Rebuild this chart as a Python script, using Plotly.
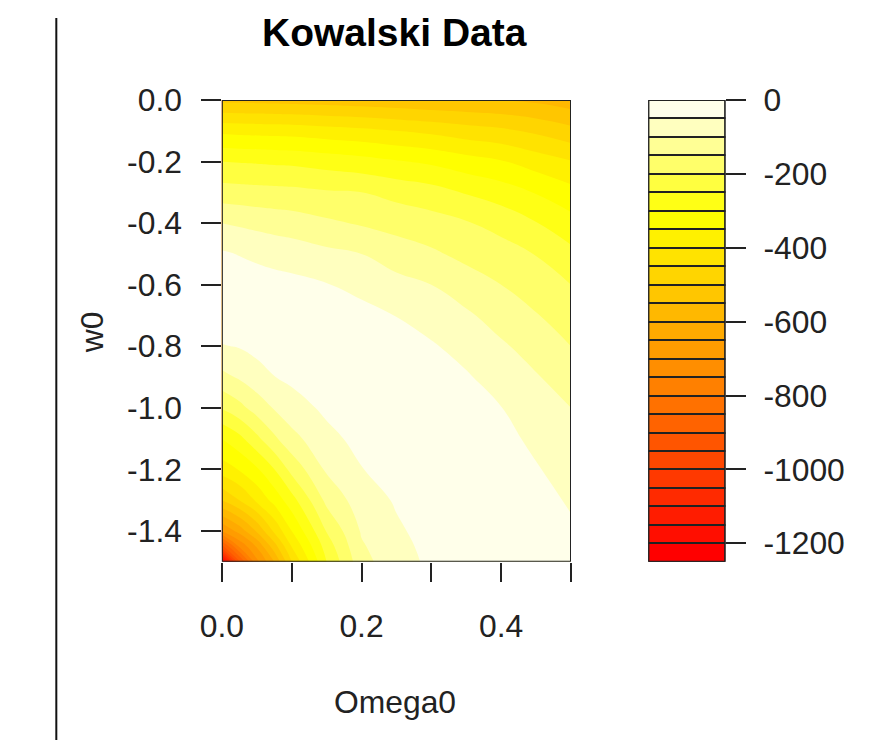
import plotly.graph_objects as go

# ---- data -------------------------------------------------------------
omega0 = [0.0, 0.025, 0.05, 0.075, 0.1, 0.15, 0.2, 0.25, 0.3, 0.35, 0.4, 0.45, 0.5]
w0 = [0.0, -0.1, -0.2, -0.3, -0.4, -0.5, -0.6, -0.7, -0.8, -0.9,
      -1.0, -1.1, -1.2, -1.3, -1.4, -1.45, -1.5]

# log-likelihood surface, one row per w0 value, one column per Omega0 value
loglike = [
    [-512, -514, -516, -517, -519, -523, -529, -536, -543, -546, -551, -560, -578],
    [-362, -365, -367, -369, -371, -380, -388, -400, -412, -428, -440, -460, -485],
    [-250, -253, -255, -258, -260, -271, -282, -296, -309, -329, -346, -373, -397],
    [-177, -180, -183, -185, -187, -195, -200, -216, -230, -254, -275, -303, -333],
    [-100, -107, -114, -120, -125, -141, -155, -168, -180, -196, -217, -248, -281],
    [-44, -52, -60, -68, -74, -88, -100, -124, -142, -163, -179, -202, -237],
    [-20, -24, -28, -32, -36, -48, -63, -84, -100, -127, -150, -174, -200],
    [-18, -17, -16, -17, -18, -28, -36, -51, -71, -92, -121, -147, -175],
    [-53, -47, -35, -28, -17, -18, -27, -33, -45, -67, -93, -120, -150],
    [-114, -94, -71, -51, -40, -25, -18, -22, -32, -45, -71, -96, -125],
    [-196, -165, -128, -96, -71, -40, -20, -16, -22, -32, -49, -78, -100],
    [-300, -264, -212, -159, -116, -64, -35, -18, -16, -22, -35, -61, -85],
    [-375, -347, -307, -251, -184, -93, -52, -26, -16, -16, -25, -46, -71],
    [-500, -450, -391, -333, -270, -137, -74, -45, -22, -15, -18, -32, -56],
    [-700, -631, -544, -441, -350, -197, -95, -57, -33, -18, -15, -22, -42],
    [-920, -744, -645, -523, -398, -227, -106, -63, -38, -21, -15, -18, -35],
    [-1230, -910, -715, -600, -450, -250, -118, -67, -42, -25, -16, -15, -28],
]

# contour levels: 25 bands of width 50 from -1250 to 0
band_lo = [-1250, -1200, -1150, -1100, -1050, -1000, -950, -900, -850, -800,
           -750, -700, -650, -600, -550, -500, -450, -400, -350, -300,
           -250, -200, -150, -100, -50]
band_size = 50
heat_colors = ["#FF0000", "#FF0E00", "#FF1C00", "#FF2A00", "#FF3900", "#FF4700",
               "#FF5500", "#FF6300", "#FF7100", "#FF8000", "#FF8E00", "#FF9C00",
               "#FFAA00", "#FFB800", "#FFC600", "#FFD500", "#FFE300", "#FFF100",
               "#FFFF00", "#FFFF15", "#FFFF40", "#FFFF6A", "#FFFF95", "#FFFFBF",
               "#FFFFEA"]

x_ticks = [0.0, 0.1, 0.2, 0.3, 0.4, 0.5]
x_ticklabels = ["0.0", "", "0.2", "", "0.4", ""]
y_ticks = [0.0, -0.2, -0.4, -0.6, -0.8, -1.0, -1.2, -1.4]
y_ticklabels = ["0.0", "-0.2", "-0.4", "-0.6", "-0.8", "-1.0", "-1.2", "-1.4"]
cbar_ticks = [0, -200, -400, -600, -800, -1000, -1200]
cbar_ticklabels = ["0", "-200", "-400", "-600", "-800", "-1000", "-1200"]

# ---- page geometry ------------------------------------------------------
W, H = 869, 740
# placement grid: positions below are given on a frame that maps onto the
# page as page = (pos - offset) / scale
SX, OX = 0.9715, 22.8
SY, OY = 0.976, 17.0
S = (SX + SY) / 2
FONT = "Liberation Sans, Arial, Helvetica, sans-serif"
INK = "#222222"


def px(x):
    return (x - OX) / SX / W


def py(y):
    return 1 - (y - OY) / SY / H


def sz(v):
    return v / S


plot_x = [px(222), px(570)]
plot_y = [py(561), py(99)]
cbar_x = [px(647), px(724)]

n_bands = len(heat_colors)
colorscale = [[i / (n_bands - 1), c] for i, c in enumerate(heat_colors)]

fig = go.Figure()

fig.add_trace(go.Contour(
    x=omega0, y=w0, z=loglike,
    autocontour=False,
    contours=dict(start=band_lo[1], end=band_lo[-1], size=band_size,
                  coloring="fill", showlines=False),
    colorscale=colorscale,
    line=dict(width=0, smoothing=1.3),
    showscale=False,
    hoverinfo="skip",
))

fig.add_trace(go.Bar(
    x=[0.5] * n_bands, y=[band_size] * n_bands, base=band_lo,
    width=1.0,
    marker=dict(color=heat_colors, line=dict(color=INK, width=2)),
    xaxis="x2", yaxis="y2",
    showlegend=False, hoverinfo="skip",
))

tick_font = dict(family=FONT, size=sz(31), color=INK)
tick_len = sz(19)

fig.update_layout(
    width=W, height=H, autosize=False,
    margin=dict(l=0, r=0, t=0, b=0),
    paper_bgcolor="white", plot_bgcolor="white",
    showlegend=False,
    xaxis=dict(domain=plot_x, range=[0, 0.5], anchor="y",
               tickvals=x_ticks, ticktext=x_ticklabels,
               ticks="outside", ticklen=tick_len, tickwidth=2, tickcolor=INK,
               tickfont=tick_font, ticklabelstandoff=16,
               showgrid=False, zeroline=False, showline=False),
    yaxis=dict(domain=plot_y, range=[-1.5, 0], anchor="x",
               tickvals=y_ticks, ticktext=y_ticklabels,
               ticks="outside", ticklen=tick_len, tickwidth=2, tickcolor=INK,
               tickfont=tick_font, ticklabelstandoff=13,
               showgrid=False, zeroline=False, showline=False),
    xaxis2=dict(domain=cbar_x, range=[0, 1], anchor="y2", visible=False,
                fixedrange=True),
    yaxis2=dict(domain=plot_y, range=[band_lo[0], band_lo[-1] + band_size],
                anchor="x2", side="right",
                tickvals=cbar_ticks, ticktext=cbar_ticklabels,
                ticks="outside", ticklen=tick_len, tickwidth=2, tickcolor=INK,
                tickfont=tick_font, ticklabelstandoff=11,
                showgrid=False, zeroline=False, showline=False),
    bargap=0,
)

# frames around the image panel and the colour key
fig.add_shape(type="rect", xref="x", yref="y", x0=0, x1=0.5, y0=-1.5, y1=0,
              line=dict(color=INK, width=2), layer="above")
fig.add_shape(type="rect", xref="x2", yref="y2", x0=0, x1=1,
              y0=band_lo[0], y1=band_lo[-1] + band_size,
              line=dict(color=INK, width=2), layer="above")
# vertical rule on the left of the page
fig.add_shape(type="line", xref="paper", yref="paper",
              x0=px(57), x1=px(57), y0=0, y1=1,
              line=dict(color="#111111", width=2))

fig.add_annotation(text="<b>Kowalski Data</b>", xref="paper", yref="paper",
                   x=px(394), y=1, xanchor="center", yanchor="top", yshift=9,
                   showarrow=False, font=dict(family=FONT, size=39, color="black"))
fig.add_annotation(text="Omega0", xref="paper", yref="paper",
                   x=px(395), y=py(701), xanchor="center", yanchor="middle",
                   showarrow=False, font=tick_font)
fig.add_annotation(text="w0", xref="paper", yref="paper", textangle=-90,
                   x=px(92), y=py(331), xanchor="center", yanchor="middle",
                   showarrow=False, font=tick_font)

fig.write_html("out.html")
